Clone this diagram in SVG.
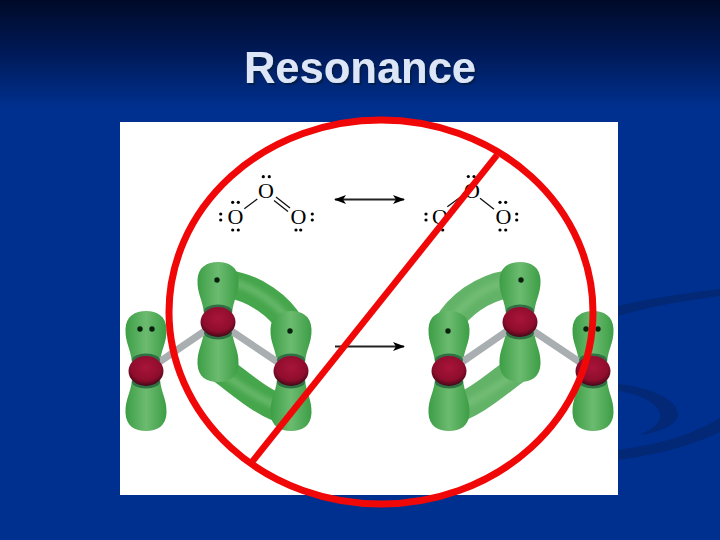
<svg xmlns="http://www.w3.org/2000/svg" width="720" height="540" viewBox="0 0 720 540">
<style>
.o{font-family:"Liberation Serif",serif;font-size:22px;fill:#000;text-anchor:middle}
.b{stroke:#111;stroke-width:1.300;fill:none}
.sw{fill:#03276f;opacity:.8}
.title{font-family:"Liberation Sans",Arial,sans-serif;font-weight:700;font-size:43.500px;text-anchor:middle;fill:#dde6f6}
.band{fill:none;stroke-linecap:round;stroke:#46a64c;stroke-width:28}
.hl{fill:none;stroke-linecap:round;stroke:#86c886;stroke-width:7;opacity:.5;filter:url(#soft)}
.dot{fill:#06200c}
</style>
<defs>
<filter id="soft" x="-30%" y="-30%" width="160%" height="160%"><feGaussianBlur stdDeviation="2.500"/></filter>
<filter id="shadow" x="-5%" y="-20%" width="110%" height="140%"><feDropShadow dx="2" dy="2" stdDeviation=".6" flood-color="#061a4a" flood-opacity=".9"/></filter>
<linearGradient id="bg" x1="0" y1="0" x2="0" y2="1">
<stop offset="0" stop-color="#000a28"/><stop offset=".1" stop-color="#001a58"/><stop offset=".2" stop-color="#00308f"/><stop offset="1" stop-color="#00308f"/>
</linearGradient>
<linearGradient id="lobe" x1="0" y1="0" x2="1" y2="0">
<stop offset="0" stop-color="#3c9e45"/><stop offset=".5" stop-color="#6cbb70"/><stop offset="1" stop-color="#3c9e45"/>
</linearGradient>
<radialGradient id="atom" cx=".5" cy=".38" r=".62">
<stop offset="0" stop-color="#a8143a"/><stop offset=".7" stop-color="#8f0d2c"/><stop offset="1" stop-color="#420818"/>
</radialGradient>
<path id="up" d="M-14,-8C-15,-22-21,-28-20.500,-42C-20,-55-11,-60 0,-60C11,-60 20,-55 20.500,-42C21,-28 15,-22 14,-8Z" fill="url(#lobe)"/>
<g id="at"><ellipse cx="0" cy="-11" rx="14" ry="6.500" fill="#2f7045"/><ellipse cx="0" cy="11" rx="14" ry="6.500" fill="#2f7045"/><ellipse rx="17.500" ry="15" fill="url(#atom)"/></g>
<marker id="ah" markerWidth="12" markerHeight="10" refX="11" refY="5" orient="auto-start-reverse" markerUnits="userSpaceOnUse"><path d="M0,0.500L12,5L0,9.500L3,5Z" fill="#000"/></marker>
</defs>
<rect width="720" height="540" fill="url(#bg)"/>
<path class="sw" d="M618,306C650,298 690,293 720,289V296C690,300 650,306 618,316Z"/>
<path class="sw" d="M618,384C650,387 678,400 678,414C678,425 660,432 640,435C655,428 662,421 660,413C656,402 640,394 618,391Z"/>
<path class="sw" d="M618,450C660,444 690,436 720,418V432C690,446 660,454 618,460Z"/>
<rect x="120" y="122" width="498" height="373" fill="#fff"/>
<text class="title" x="360" y="83" filter="url(#shadow)">Resonance</text>

<g id="lewis-left">
<text class="o" x="266" y="198">O</text><text class="o" x="235.500" y="224">O</text><text class="o" x="298.500" y="224">O</text>
<path class="b" d="M244.300,208.700L257.300,199M276,197L290,208M274,200.500L288,211.500"/>
<g fill="#000"><circle cx="263.300" cy="176.700" r="1.600"/><circle cx="269.300" cy="176.700" r="1.600"/><circle cx="232.700" cy="202.300" r="1.600"/><circle cx="238.300" cy="202.300" r="1.600"/><circle cx="232.700" cy="230" r="1.600"/><circle cx="238.300" cy="230" r="1.600"/><circle cx="220.700" cy="214" r="1.600"/><circle cx="220.700" cy="220" r="1.600"/><circle cx="312.300" cy="214" r="1.600"/><circle cx="312.300" cy="220" r="1.600"/><circle cx="296" cy="230" r="1.600"/><circle cx="300.700" cy="230" r="1.600"/></g>
</g>
<g id="lewis-right">
<text class="o" x="472" y="198">O</text><text class="o" x="440" y="224">O</text><text class="o" x="503.500" y="224">O</text>
<path class="b" d="M447.300,206.700L463.300,195M480,198.300L494,209.300"/>
<g fill="#000"><circle cx="468.300" cy="176.500" r="1.600"/><circle cx="474" cy="176.500" r="1.600"/><circle cx="500" cy="202.300" r="1.600"/><circle cx="505.700" cy="202.300" r="1.600"/><circle cx="500" cy="230" r="1.600"/><circle cx="505.700" cy="230" r="1.600"/><circle cx="516.700" cy="214" r="1.600"/><circle cx="516.700" cy="220" r="1.600"/><circle cx="426" cy="214" r="1.600"/><circle cx="426" cy="220" r="1.600"/><circle cx="437.500" cy="230" r="1.600"/><circle cx="442.700" cy="230" r="1.600"/></g>
</g>

<g id="connectors">
<path d="M335,199.500H404" stroke="#222" stroke-width="2" marker-start="url(#ah)" marker-end="url(#ah)"/>
<path d="M335,346.500H404" stroke="#222" stroke-width="2" marker-end="url(#ah)"/>
</g>

<g id="mol-left">
<path class="band" d="M228,284C255,288 280,306 291,326"/>
<path class="hl" d="M232,282C255,288 278,304 288,320"/>
<path class="band" d="M216,366C235,378 262,405 288,411"/>
<path class="hl" d="M220,372C240,385 262,402 284,408"/>
<use href="#up" x="146" y="371"/><use href="#up" transform="translate(146,371) scale(1,-1)"/>
<use href="#up" x="218" y="322"/><use href="#up" transform="translate(218,322) scale(1,-1)"/>
<use href="#up" x="291" y="371"/><use href="#up" transform="translate(291,371) scale(1,-1)"/>
<path d="M146,371L218,322M218,322L291,371" stroke="#a9aeb0" stroke-width="7"/>
<use href="#at" x="146" y="371"/><use href="#at" x="218" y="322"/><use href="#at" x="291" y="371"/>
<circle class="dot" cx="140" cy="329" r="2.700"/><circle class="dot" cx="152" cy="329" r="2.700"/><circle class="dot" cx="217" cy="280" r="2.700"/><circle class="dot" cx="290" cy="331" r="2.700"/>
</g>

<g id="mol-right">
<path class="band" opacity=".85" d="M509,284C482,288 458,306 447,326"/>
<path class="hl" d="M505,282C482,288 462,304 452,320"/>
<path class="band" opacity=".85" d="M522,366C503,378 476,405 449,411"/>
<path class="hl" d="M518,372C498,385 476,402 454,408"/>
<use href="#up" x="449" y="371"/><use href="#up" transform="translate(449,371) scale(1,-1)"/>
<use href="#up" x="520" y="322"/><use href="#up" transform="translate(520,322) scale(1,-1)"/>
<use href="#up" x="593" y="371"/><use href="#up" transform="translate(593,371) scale(1,-1)"/>
<path d="M449,371L520,322M520,322L593,371" stroke="#a9aeb0" stroke-width="7"/>
<use href="#at" x="449" y="371"/><use href="#at" x="520" y="322"/><use href="#at" x="593" y="371"/>
<circle class="dot" cx="448" cy="331" r="2.700"/><circle class="dot" cx="521" cy="280" r="2.700"/><circle class="dot" cx="586" cy="329" r="2.700"/><circle class="dot" cx="598" cy="329" r="2.700"/>
</g>

<g id="prohibition" fill="none" stroke="#f00808">
<ellipse cx="381" cy="312" rx="212" ry="192" stroke-width="7"/>
<path d="M497,155L252,462" stroke-width="6.500"/>
</g>
</svg>
